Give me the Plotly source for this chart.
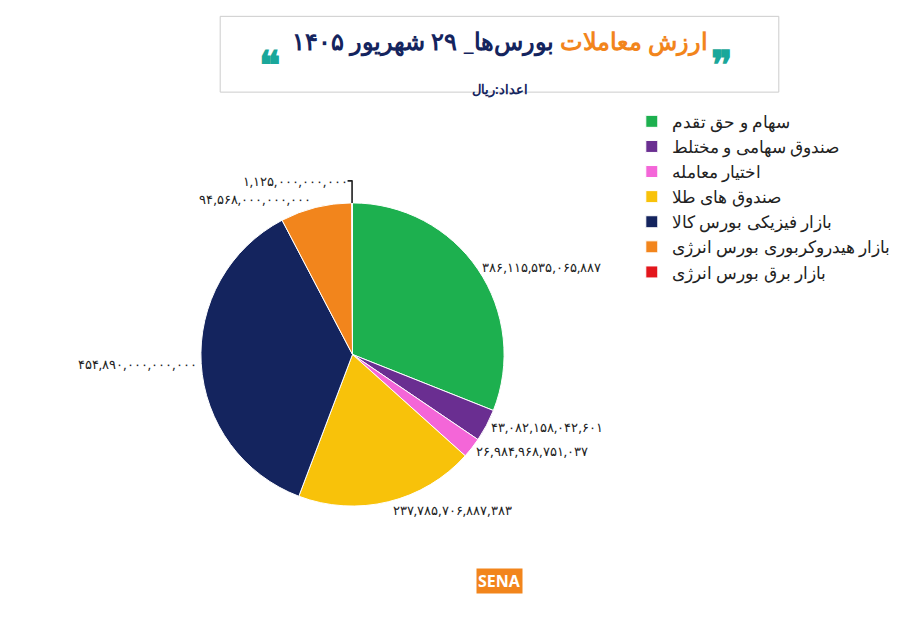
import plotly.graph_objects as go

labels = ["سهام و حق تقدم", "صندوق سهامی و مختلط", "اختیار معامله", "صندوق های طلا",
          "بازار فیزیکی بورس کالا", "بازار هیدروکربوری بورس انرژی", "بازار برق بورس انرژی"]
values = [386115535065887, 43082158042601, 26984968751037, 237785706887383,
          454890000000000, 94568000000000, 1125000000000]
colors = ["#1db04f", "#6a2e91", "#f466d8", "#f8c20a", "#14245e", "#f2851c", "#e3161c"]

fa = str.maketrans("0123456789", "۰۱۲۳۴۵۶۷۸۹")
texts = ["{:,}".format(v).translate(fa) for v in values]

fig = go.Figure(go.Pie(
    labels=labels, values=values, text=texts, textinfo="text",
    textposition="outside", sort=False, direction="clockwise",
    marker=dict(colors=colors, line=dict(color="white", width=1)),
    domain=dict(x=[0.05, 0.55], y=[0.18, 0.70]),
    outsidetextfont=dict(family="Noto Sans", size=13, color="#222"),
))

fig.update_layout(
    width=900, height=623, paper_bgcolor="white",
    margin=dict(l=20, r=20, t=20, b=20),
    font=dict(family="Noto Sans"),
    legend=dict(x=0.68, y=0.87, xanchor="left", yanchor="top",
                font=dict(size=17, color="#222", family="Noto Sans"),
                bgcolor="rgba(0,0,0,0)"),
    shapes=[
        dict(type="rect", xref="paper", yref="paper", x0=0.12, x1=0.88, y0=0.89, y1=1.02,
             fillcolor="white", line=dict(color="#cccccc", width=1), layer="below"),
    ],
    annotations=[
        dict(text="<b><span style='color:#f2851c'>ارزش معاملات</span> <span style='color:#14245e'>بورس‌ها_ ۲۹ شهریور ۱۴۰۵</span></b>",
             x=0.5, y=1.01, xref="paper", yref="paper", showarrow=False,
             font=dict(size=24, family="Noto Sans"), yanchor="top"),
        dict(text="<b>اعداد:ریال</b>", x=0.5, y=0.915, xref="paper", yref="paper",
             showarrow=False, font=dict(size=13, color="#14245e")),
        dict(text="<b>❞</b>", x=0.82, y=0.99, xref="paper", yref="paper", showarrow=False,
             font=dict(size=40, color="#1aa79a")),
        dict(text="<b>❝</b>", x=0.17, y=0.99, xref="paper", yref="paper", showarrow=False,
             font=dict(size=40, color="#1aa79a")),
        dict(text="<b>SENA</b>", x=0.5, y=0.03, xref="paper", yref="paper", showarrow=False,
             font=dict(size=16, color="white"), bgcolor="#f2851c"),
    ],
)

fig.write_html("out.html")
